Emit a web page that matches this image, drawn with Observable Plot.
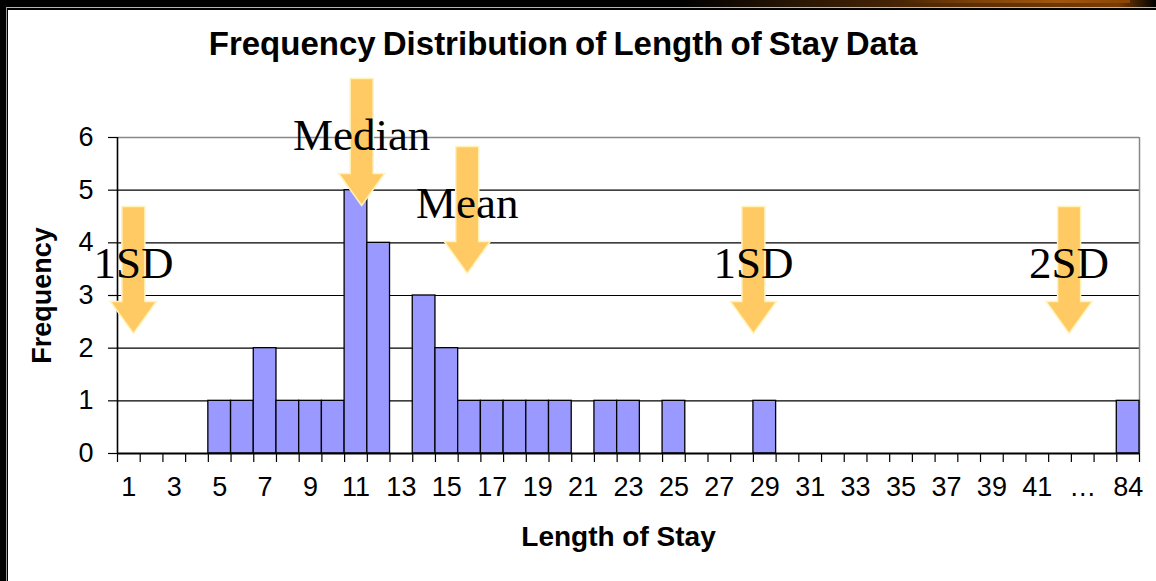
<!DOCTYPE html>
<html>
<head>
<meta charset="utf-8">
<script src="https://cdn.jsdelivr.net/npm/d3@7"></script>
<script src="https://cdn.jsdelivr.net/npm/@observablehq/plot@0.6"></script>
<style>
  html, body { margin: 0; padding: 0; background: #000; }
  #stage { position: relative; width: 1156px; height: 581px; background: #000; overflow: hidden; }
  #glow { position: absolute; left: 680px; top: 0; width: 476px; height: 8px;
          background: linear-gradient(90deg, #000 0%, #2a1604 25%, #5a2e05 60%, #7a3c02 92%, #000 100%); }
  #glow2 { position: absolute; left: 900px; top: 0; width: 230px; height: 3px;
          background: linear-gradient(90deg, rgba(160,80,10,0) 0%, #a0560e 70%, #8a4404 100%); }
  #topline { position: absolute; left: 6px; top: 7px; right: 0; height: 1px; background: #b5b5b5; }
  #leftline { position: absolute; left: 6px; top: 7px; width: 1px; bottom: 0; background: #9a9a9a; }
  #panel { position: absolute; left: 8px; top: 10px; right: 0; bottom: 0; background: #fff; }
  #title { position: absolute; left: 563px; top: 27px; transform: translateX(-50%);
           font: bold 33px "Liberation Sans", Arial, sans-serif; line-height: 33px;
           white-space: nowrap; color: #000; word-spacing: -2px; }
  #chart { position: absolute; left: 0; top: 0; }
</style>
</head>
<body>
<div id="stage">
  <div id="glow"></div>
  <div id="glow2"></div>
  <div id="topline"></div>
  <div id="leftline"></div>
  <div id="panel"></div>
  <div id="chart"></div>
  <div id="title">Frequency Distribution of Length of Stay Data</div>
</div>
<script>
// Category labels along the x axis (one per bar slot)
const categories = ["1","2","3","4","5","6","7","8","9","10",
  "11","12","13","14","15","16","17","18","19","20",
  "21","22","23","24","25","26","27","28","29","30",
  "31","32","33","34","35","36","37","38","39","40",
  "41","42","…","","84"];
// Frequency of each category
const counts = [0,0,0,0,1,1,2,1,1,1,
  5,4,0,3,2,1,1,1,1,1,
  0,1,1,0,1,0,0,0,1,0,
  0,0,0,0,0,0,0,0,0,0,
  0,0,0,0,1];
// Statistic markers: label, position on the category axis, arrow tip height (frequency units)
const markerLabels = ["1SD", "Median", "Mean", "1SD", "2SD"];
const markerPos = [1.2, 11.25, 15.9, 28.5, 42.4];
const markerTip = [2.28, 4.71, 3.42, 2.28, 2.28];
const yTicks = [0, 1, 2, 3, 4, 5, 6];

const bars = categories.map((c, i) => ({pos: i + 1, label: c, count: counts[i]}));
const markers = markerLabels.map((l, i) => ({label: l, x: markerPos[i], tip: markerTip[i]}));
const boundaries = categories.map((c, i) => i + 0.5).concat([categories.length + 0.5]);
const labeled = bars.filter((b, i) => i % 2 === 0).map(b => b.pos);

// downward arrow symbol, tip at the origin
const arrowSymbol = {
  draw(ctx) {
    ctx.moveTo(0, 0);
    ctx.lineTo(-23, -32);
    ctx.lineTo(-11.5, -32);
    ctx.lineTo(-11.5, -127);
    ctx.lineTo(11.5, -127);
    ctx.lineTo(11.5, -32);
    ctx.lineTo(23, -32);
    ctx.closePath();
  }
};

const font = "'Liberation Sans', Arial, sans-serif";
const chart = Plot.plot({
  width: 1156,
  height: 581,
  marginLeft: 117,
  marginRight: 17,
  marginTop: 137,
  marginBottom: 128,
  style: {background: "transparent", fontFamily: font, color: "#000", overflow: "visible"},
  x: {type: "linear", domain: [0.5, categories.length + 0.5]},
  y: {domain: [0, 6]},
  marks: [
    Plot.ruleY(yTicks.filter(t => t > 0 && t < 6), {stroke: "#000", strokeWidth: 1.2}),
    Plot.ruleY([6], {stroke: "#888", strokeWidth: 1.5}),
    Plot.ruleX([categories.length + 0.5], {y1: 0, y2: 6, stroke: "#888", strokeWidth: 1.5}),
    Plot.rectY(bars.filter(b => b.count > 0), {
      x1: d => d.pos - 0.5, x2: d => d.pos + 0.5, y: "count",
      fill: "#9999FF", stroke: "#000", strokeWidth: 1.3
    }),
    Plot.ruleX([0.5], {y1: 0, y2: 6, stroke: "#000", strokeWidth: 1.6}),
    Plot.ruleY([0], {stroke: "#000", strokeWidth: 2.2}),
    Plot.axisY({ticks: yTicks, tickSize: 9, tickFormat: () => "", label: null, stroke: "#000", strokeWidth: 1.2}),
    Plot.text(yTicks, {x: 0.5, y: d => d, text: d => String(d), dx: -24, textAnchor: "end", fontSize: 27}),
    Plot.axisX({ticks: boundaries, tickFormat: () => "", tickSize: 9, label: null, stroke: "#000", strokeWidth: 1.2}),
    Plot.text(labeled, {x: d => d, y: 0, text: p => categories[p - 1], dy: 34, fontSize: 27}),
    Plot.text(["Length of Stay"], {frameAnchor: "bottom", dy: 92, dx: -10, fontWeight: "bold", fontSize: 28}),
    Plot.text(["Frequency"], {frameAnchor: "left", textAnchor: "middle", dx: -75, rotate: -90, fontWeight: "bold", fontSize: 27}),
    Plot.dot(markers, {x: "x", y: "tip", symbol: arrowSymbol, r: 5, fill: "#FFC964", stroke: "#FFF3B8", strokeWidth: 1.5}),
    Plot.text(markers, {x: "x", y: "tip", text: "label", dy: -55, lineAnchor: "bottom",
      fontFamily: "'Liberation Serif', 'Times New Roman', serif", fontSize: 45, fill: "#000"})
  ]
});
document.getElementById("chart").appendChild(chart);
</script>
</body>
</html>
